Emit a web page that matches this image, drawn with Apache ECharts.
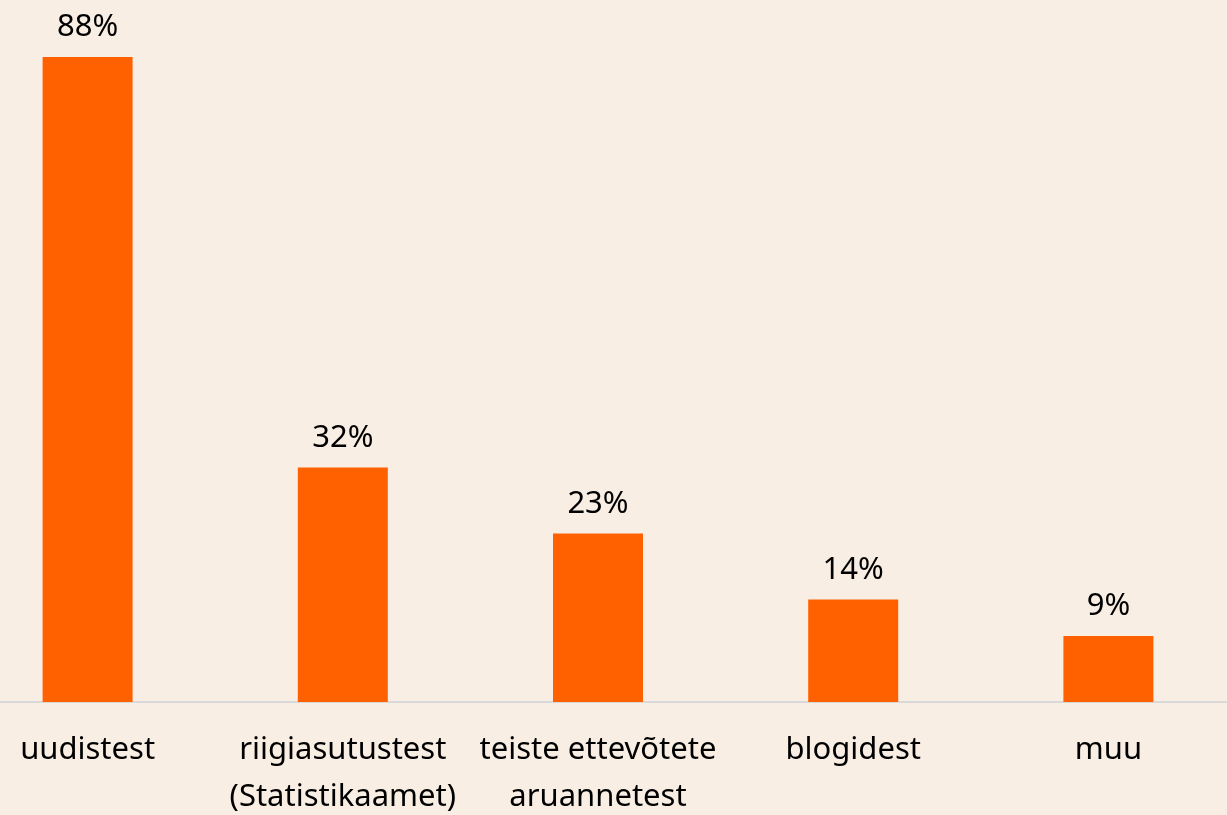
<!DOCTYPE html>
<html>
<head>
<meta charset="utf-8">
<script src="https://cdn.jsdelivr.net/npm/echarts@6/dist/echarts.min.js"></script>
<style>
  html, body { margin: 0; padding: 0; background: #f9eee4; overflow: hidden; }
  /* plot area is wider than the page in the original, so shift the chart left */
  #chart { position: absolute; left: -40px; top: 0; width: 1276px; height: 815px; }
</style>
</head>
<body>
<div id="chart"></div>
<script>
const categories = ['uudistest', 'riigiasutustest\n(Statistikaamet)', 'teiste ettevõtete\naruannetest', 'blogidest', 'muu'];
const shares = [88, 32, 23, 14, 9];

const myChart = echarts.init(document.getElementById('chart'));

const option = {
  backgroundColor: '#f9eee4',
  textStyle: { fontFamily: 'Noto Sans' },
  grid: {
    left: 0,
    right: 0,
    top: 57,
    bottom: 113,
    containLabel: false,
    outerBoundsMode: 'none'
  },
  xAxis: {
    type: 'category',
    data: categories,
    axisTick: { show: false },
    axisLine: { lineStyle: { color: '#d9d9d9', width: 2 } },
    axisLabel: {
      color: '#000',
      fontSize: 31,
      lineHeight: 47,
      margin: 25,
      interval: 0
    }
  },
  yAxis: {
    type: 'value',
    min: 0,
    max: 88,
    show: false,
    splitLine: { show: false }
  },
  series: [
    {
      type: 'bar',
      data: shares,
      barWidth: 90,
      itemStyle: { color: '#ff6100' },
      label: {
        show: true,
        position: 'top',
        distance: 14,
        color: '#000',
        fontSize: 31,
        formatter: (p) => p.value + '%'
      }
    }
  ]
};
myChart.setOption(option);
</script>
</body>
</html>
